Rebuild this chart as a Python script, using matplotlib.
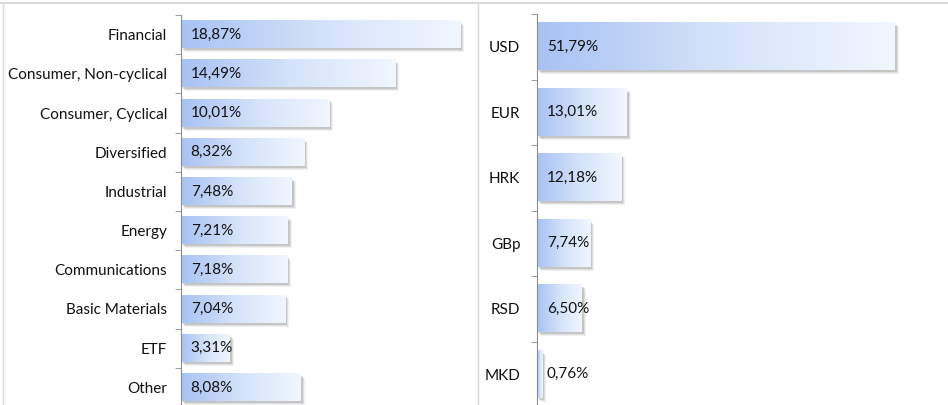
import numpy as np
import matplotlib
matplotlib.use("Agg")
import matplotlib.pyplot as plt
from matplotlib.colors import LinearSegmentedColormap
from matplotlib.lines import Line2D
from matplotlib.patches import Rectangle
from matplotlib.transforms import offset_copy

sectors = ["Financial", "Consumer, Non-cyclical", "Consumer, Cyclical", "Diversified",
           "Industrial", "Energy", "Communications", "Basic Materials", "ETF", "Other"]
sector_vals = [18.87, 14.49, 10.01, 8.32, 7.48, 7.21, 7.18, 7.04, 3.31, 8.08]

currencies = ["USD", "EUR", "HRK", "GBp", "RSD", "MKD"]
currency_vals = [51.79, 13.01, 12.18, 7.74, 6.50, 0.76]

plt.rcParams['font.family'] = ['Lato', 'DejaVu Sans']

W, H = 948, 405
fig = plt.figure(figsize=(W / 100, H / 100), dpi=100)

cmap = LinearSegmentedColormap.from_list("bar", ["#a7c2f3", "#d4e2fa", "#f2f7ff"])
grad = np.linspace(0, 1, 256).reshape(1, -1)


def bar_chart(rect, cats, vals, xmax, bar_h, pad, fs):
    ax = fig.add_axes(rect)
    n = len(cats)
    ys = np.arange(n)
    for i, v in enumerate(vals):
        y0, y1 = i - bar_h / 2, i + bar_h / 2
        # soft shadow
        for k, a in [(4, 0.10), (3, 0.15), (2, 0.25)]:
            tr = offset_copy(ax.transData, fig=fig, x=k, y=-k, units='dots')
            ax.add_patch(Rectangle((0, y0), v, bar_h, transform=tr,
                                   facecolor="#7a7a7a", edgecolor="none", alpha=a, zorder=1))
        ax.imshow(grad, cmap=cmap, aspect='auto', extent=[0, v, y1, y0],
                  interpolation='bilinear', zorder=2)
        ax.annotate(f"{v:.2f}".replace(".", ",") + "%", xy=(0, i), xytext=(7, 0),
                    textcoords='offset points', va='center', ha='left',
                    fontsize=fs, color="#111111", zorder=3)
    ax.set_xlim(0, xmax)
    ax.set_ylim(n - 0.5, -0.5)
    for s in ["top", "right", "bottom"]:
        ax.spines[s].set_visible(False)
    ax.spines["left"].set_color("#8c8c8c")
    ax.set_xticks([])
    ax.set_yticks(ys)
    ax.set_yticklabels(cats, fontsize=fs, color="#111111")
    ax.set_yticks(np.arange(n + 1) - 0.5, minor=True)
    ax.tick_params(axis='y', which='major', length=0, pad=pad)
    ax.tick_params(axis='y', which='minor', length=4, color="#8c8c8c")
    ax.set_facecolor("none")
    return ax


bar_chart([181 / W, -2 / H, 296 / W, 392 / H], sectors, sector_vals, 20, 0.69, 10, 11)
bar_chart([537 / W, -2 / H, 380 / W, 393 / H], currencies, currency_vals, 55, 0.72, 12, 11)

# frame lines
fig.add_artist(Line2D([0, 1], [1 - 3 / H, 1 - 3 / H], color="#d9d9d9", lw=1.5))
fig.add_artist(Line2D([3 / W, 3 / W], [0, 1 - 3 / H], color="#d9d9d9", lw=1))
fig.add_artist(Line2D([478 / W, 478 / W], [0, 1 - 3 / H], color="#d9d9d9", lw=1))

fig.savefig("out.png", dpi=100)
